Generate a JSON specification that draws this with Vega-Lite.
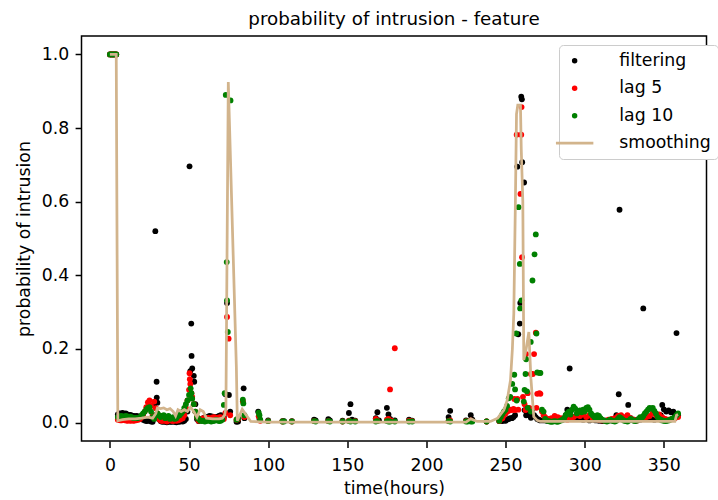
{
"$schema":"https://vega.github.io/schema/vega-lite/v6.json",
"width":625,"height":405,
"autosize":{"type":"none"},
"padding":{"left":81.5,"top":36,"right":11.5,"bottom":59},
"background":"white",
"title":{"text":"probability of intrusion - feature","fontSize":18.3,"font":"DejaVu Sans","fontWeight":"normal","color":"black","anchor":"middle","baseline":"alphabetic","frame":"group","offset":10,"dy":17},
"config":{"view":{"stroke":"black","strokeWidth":1.5},"font":"DejaVu Sans",
"axis":{"grid":false,"domain":false,"tickColor":"black","tickWidth":1.5,"tickSize":6.4,"labelFont":"DejaVu Sans","labelFontSize":17.3,"labelColor":"black","labelPadding":6.4,"titleFont":"DejaVu Sans","titleFontSize":17.3,"titleFontWeight":"normal","titleColor":"black"},
"axisX":{"labelPadding":9,"titlePadding":6},"axisY":{"titlePadding":8}},
"datasets":{
"fil":[{"t":0,"p":1},{"t":1,"p":1},{"t":2,"p":1},{"t":3,"p":1},{"t":4,"p":1},
{"t":5,"p":0.022},{"t":6,"p":0.025},{"t":7,"p":0.024},{"t":8,"p":0.026},{"t":9,"p":0.023},{"t":10,"p":0.025},{"t":11,"p":0.022},{"t":12,"p":0.02},{"t":13,"p":0.021},{"t":14,"p":0.019},{"t":15,"p":0.018},{"t":16,"p":0.017},{"t":17,"p":0.018},{"t":18,"p":0.016},{"t":19,"p":0.012},{"t":20,"p":0.01},{"t":21,"p":0.008},{"t":22,"p":0.006},{"t":23,"p":0.004},{"t":24,"p":0.005},{"t":25,"p":0.006},{"t":26,"p":0.003},{"t":27,"p":0.002},{"t":28,"p":0.05},{"t":28.7,"p":0.52},{"t":29.5,"p":0.111},{"t":29.6,"p":0.068},{"t":30,"p":0.054},{"t":31,"p":0.01},{"t":32,"p":0.004},{"t":33,"p":0.002},{"t":34,"p":0.003},{"t":35,"p":0.002},{"t":36,"p":0.001},{"t":37,"p":0.003},{"t":38,"p":0.002},{"t":39,"p":0.002},{"t":40,"p":0.003},{"t":41,"p":0.002},{"t":42,"p":0.001},{"t":43,"p":0.003},{"t":44,"p":0.002},{"t":45,"p":0.004},{"t":46,"p":0.003},{"t":47,"p":0.005},{"t":48,"p":0.01},{"t":49,"p":0.03},{"t":50.3,"p":0.696},{"t":50.8,"p":0.14},{"t":51.4,"p":0.269},{"t":51.6,"p":0.181},{"t":52,"p":0.147},{"t":53,"p":0.127},{"t":53.3,"p":0.111},{"t":54,"p":0.05},{"t":55,"p":0.01},{"t":56,"p":0.004},{"t":57,"p":0.006},{"t":58,"p":0.01},{"t":59,"p":0.012},{"t":60,"p":0.014},{"t":61,"p":0.015},{"t":62,"p":0.016},{"t":63,"p":0.018},{"t":64,"p":0.017},{"t":65,"p":0.016},{"t":66,"p":0.014},{"t":67,"p":0.015},{"t":68,"p":0.016},{"t":69,"p":0.018},{"t":70,"p":0.02},{"t":71,"p":0.019},{"t":72,"p":0.015},{"t":73,"p":0.077},{"t":74,"p":0.325},{"t":75.2,"p":0.075},{"t":76,"p":0.03},{"t":80,"p":0.002},{"t":81,"p":0.003},{"t":84.5,"p":0.093},{"t":85,"p":0.012},{"t":93.7,"p":0.03},{"t":94.5,"p":0.01},{"t":100,"p":0.006},{"t":109,"p":0.004},{"t":110,"p":0.004},{"t":115,"p":0.004},{"t":129,"p":0.008},{"t":130,"p":0.006},{"t":138,"p":0.009},{"t":139,"p":0.006},{"t":147,"p":0.005},{"t":151,"p":0.026},{"t":152,"p":0.05},{"t":153,"p":0.008},{"t":155,"p":0.005},{"t":168,"p":0.012},{"t":169,"p":0.028},{"t":170,"p":0.006},{"t":175,"p":0.04},{"t":176,"p":0.022},{"t":177,"p":0.01},{"t":178,"p":0.006},{"t":180,"p":0.006},{"t":189,"p":0.008},{"t":191,"p":0.005},{"t":214,"p":0.015},{"t":215,"p":0.032},{"t":225,"p":0.006},{"t":228,"p":0.02},{"t":229,"p":0.008},{"t":238,"p":0.003},{"t":246,"p":0.004},{"t":247,"p":0.005},{"t":248,"p":0.004},{"t":249,"p":0.006},{"t":250,"p":0.005},{"t":251,"p":0.008},{"t":252,"p":0.01},{"t":253,"p":0.012},{"t":254,"p":0.012},{"t":255,"p":0.015},{"t":256,"p":0.02},{"t":257.4,"p":0.695},{"t":258,"p":0.24},{"t":259,"p":0.269},{"t":259.3,"p":0.325},{"t":259.9,"p":0.885},{"t":260.3,"p":0.878},{"t":260.5,"p":0.707},{"t":261.7,"p":0.652},{"t":262,"p":0.034},{"t":263,"p":0.02},{"t":264,"p":0.034},{"t":265,"p":0.02},{"t":266,"p":0.013},{"t":267,"p":0.037},{"t":268,"p":0.02},{"t":269,"p":0.015},{"t":270,"p":0.01},{"t":271,"p":0.008},{"t":272,"p":0.006},{"t":274,"p":0.006},{"t":276,"p":0.005},{"t":278,"p":0.004},{"t":280,"p":0.006},{"t":282,"p":0.005},{"t":284,"p":0.006},{"t":286,"p":0.008},{"t":288,"p":0.02},{"t":289,"p":0.035},{"t":290.5,"p":0.147},{"t":291,"p":0.03},{"t":293,"p":0.015},{"t":295,"p":0.01},{"t":297,"p":0.012},{"t":299,"p":0.008},{"t":301,"p":0.01},{"t":303,"p":0.006},{"t":305,"p":0.008},{"t":307,"p":0.006},{"t":309,"p":0.005},{"t":311,"p":0.004},{"t":313,"p":0.005},{"t":315,"p":0.006},{"t":317,"p":0.006},{"t":319,"p":0.008},{"t":320,"p":0.02},{"t":321.5,"p":0.077},{"t":322,"p":0.578},{"t":323,"p":0.015},{"t":325,"p":0.01},{"t":327.5,"p":0.048},{"t":329,"p":0.012},{"t":331,"p":0.008},{"t":333,"p":0.006},{"t":335,"p":0.008},{"t":337,"p":0.31},{"t":338,"p":0.01},{"t":340,"p":0.012},{"t":342,"p":0.01},{"t":344,"p":0.008},{"t":346,"p":0.012},{"t":348,"p":0.02},{"t":349,"p":0.048},{"t":350,"p":0.036},{"t":351.5,"p":0.03},{"t":353,"p":0.033},{"t":354.5,"p":0.028},{"t":356,"p":0.03},{"t":357,"p":0.022},{"t":358,"p":0.243},{"t":359,"p":0.02}],
"lag5":[{"t":0,"p":1},{"t":1,"p":1},{"t":2,"p":1},{"t":3,"p":1},{"t":4,"p":1},
{"t":5,"p":0.008},{"t":6,"p":0.007},{"t":7,"p":0.006},{"t":8,"p":0.007},{"t":9,"p":0.008},{"t":10,"p":0.006},{"t":11,"p":0.005},{"t":12,"p":0.006},{"t":13,"p":0.005},{"t":14,"p":0.006},{"t":15,"p":0.005},{"t":16,"p":0.006},{"t":17,"p":0.007},{"t":18,"p":0.008},{"t":19,"p":0.01},{"t":20,"p":0.015},{"t":21,"p":0.022},{"t":22,"p":0.03},{"t":23,"p":0.042},{"t":24,"p":0.055},{"t":25,"p":0.06},{"t":26,"p":0.045},{"t":27,"p":0.02},{"t":28,"p":0.057},{"t":29,"p":0.039},{"t":30,"p":0.025},{"t":31,"p":0.01},{"t":32,"p":0.006},{"t":33,"p":0.004},{"t":34,"p":0.008},{"t":35,"p":0.005},{"t":36,"p":0.003},{"t":37,"p":0.006},{"t":38,"p":0.009},{"t":39,"p":0.005},{"t":40,"p":0.004},{"t":41,"p":0.007},{"t":42,"p":0.005},{"t":43,"p":0.006},{"t":44,"p":0.008},{"t":45,"p":0.01},{"t":46,"p":0.012},{"t":47,"p":0.02},{"t":48,"p":0.04},{"t":49,"p":0.06},{"t":50,"p":0.089},{"t":50.3,"p":0.134},{"t":50.5,"p":0.118},{"t":50.8,"p":0.105},{"t":51.5,"p":0.08},{"t":52,"p":0.07},{"t":53,"p":0.05},{"t":54,"p":0.03},{"t":55,"p":0.015},{"t":56,"p":0.005},{"t":57,"p":0.008},{"t":58,"p":0.01},{"t":59,"p":0.012},{"t":60,"p":0.01},{"t":61,"p":0.012},{"t":62,"p":0.013},{"t":63,"p":0.011},{"t":64,"p":0.012},{"t":65,"p":0.014},{"t":66,"p":0.015},{"t":67,"p":0.013},{"t":68,"p":0.012},{"t":69,"p":0.014},{"t":70,"p":0.015},{"t":71,"p":0.012},{"t":72,"p":0.01},{"t":73,"p":0.026},{"t":74,"p":0.287},{"t":75,"p":0.228},{"t":76,"p":0.02},{"t":80,"p":0.008},{"t":81,"p":0.01},{"t":84,"p":0.058},{"t":85,"p":0.015},{"t":94,"p":0.017},{"t":95,"p":0.005},{"t":100,"p":0.004},{"t":109,"p":0.003},{"t":115,"p":0.003},{"t":129,"p":0.004},{"t":138,"p":0.004},{"t":147,"p":0.003},{"t":151,"p":0.005},{"t":155,"p":0.004},{"t":168,"p":0.01},{"t":169,"p":0.005},{"t":175,"p":0.008},{"t":176,"p":0.01},{"t":177,"p":0.09},{"t":178,"p":0.005},{"t":180,"p":0.202},{"t":189,"p":0.005},{"t":191,"p":0.004},{"t":214,"p":0.004},{"t":215,"p":0.006},{"t":225,"p":0.004},{"t":228,"p":0.006},{"t":238,"p":0.003},{"t":246,"p":0.004},{"t":247,"p":0.01},{"t":248,"p":0.012},{"t":249,"p":0.02},{"t":250,"p":0.025},{"t":251,"p":0.03},{"t":252,"p":0.032},{"t":253,"p":0.035},{"t":254,"p":0.034},{"t":255,"p":0.037},{"t":255.5,"p":0.064},{"t":256,"p":0.034},{"t":257,"p":0.782},{"t":257.5,"p":0.064},{"t":258,"p":0.035},{"t":259.4,"p":0.621},{"t":259.9,"p":0.782},{"t":260.1,"p":0.857},{"t":260.4,"p":0.449},{"t":261,"p":0.07},{"t":262,"p":0.05},{"t":262.6,"p":0.034},{"t":263,"p":0.186},{"t":264,"p":0.08},{"t":265,"p":0.04},{"t":266,"p":0.132},{"t":267.2,"p":0.132},{"t":268,"p":0.186},{"t":269.1,"p":0.244},{"t":269.5,"p":0.04},{"t":270,"p":0.078},{"t":271.4,"p":0.08},{"t":272,"p":0.078},{"t":273,"p":0.03},{"t":274,"p":0.02},{"t":275,"p":0.015},{"t":277,"p":0.01},{"t":279,"p":0.012},{"t":281,"p":0.018},{"t":283,"p":0.015},{"t":285,"p":0.012},{"t":287,"p":0.01},{"t":289,"p":0.008},{"t":291,"p":0.01},{"t":293,"p":0.015},{"t":295,"p":0.02},{"t":297,"p":0.018},{"t":299,"p":0.022},{"t":301,"p":0.015},{"t":303,"p":0.02},{"t":305,"p":0.012},{"t":307,"p":0.01},{"t":309,"p":0.008},{"t":311,"p":0.006},{"t":313,"p":0.005},{"t":315,"p":0.008},{"t":317,"p":0.01},{"t":319,"p":0.012},{"t":321,"p":0.018},{"t":323,"p":0.02},{"t":325,"p":0.015},{"t":327,"p":0.02},{"t":329,"p":0.012},{"t":331,"p":0.008},{"t":333,"p":0.006},{"t":335,"p":0.01},{"t":337,"p":0.012},{"t":339,"p":0.015},{"t":341,"p":0.018},{"t":343,"p":0.026},{"t":345,"p":0.02},{"t":347,"p":0.022},{"t":349,"p":0.015},{"t":351,"p":0.01},{"t":353,"p":0.008},{"t":355,"p":0.01},{"t":357,"p":0.012},{"t":359,"p":0.015}],
"lag10":[{"t":0,"p":1},{"t":1,"p":1},{"t":2,"p":1},{"t":3,"p":1},{"t":4,"p":1},
{"t":5,"p":0.015},{"t":6,"p":0.016},{"t":7,"p":0.018},{"t":8,"p":0.017},{"t":9,"p":0.016},{"t":10,"p":0.018},{"t":11,"p":0.017},{"t":12,"p":0.015},{"t":13,"p":0.016},{"t":14,"p":0.014},{"t":15,"p":0.012},{"t":16,"p":0.013},{"t":17,"p":0.012},{"t":18,"p":0.013},{"t":19,"p":0.015},{"t":20,"p":0.02},{"t":21,"p":0.025},{"t":22,"p":0.03},{"t":23,"p":0.036},{"t":24,"p":0.04},{"t":25,"p":0.042},{"t":26,"p":0.03},{"t":27,"p":0.015},{"t":28,"p":0.01},{"t":29,"p":0.02},{"t":30,"p":0.025},{"t":31,"p":0.02},{"t":32,"p":0.015},{"t":33,"p":0.018},{"t":34,"p":0.02},{"t":35,"p":0.012},{"t":36,"p":0.015},{"t":37,"p":0.018},{"t":38,"p":0.01},{"t":39,"p":0.012},{"t":40,"p":0.015},{"t":41,"p":0.01},{"t":42,"p":0.012},{"t":43,"p":0.018},{"t":44,"p":0.02},{"t":45,"p":0.025},{"t":46,"p":0.03},{"t":47,"p":0.04},{"t":48,"p":0.05},{"t":49,"p":0.06},{"t":50,"p":0.075},{"t":51,"p":0.093},{"t":51.5,"p":0.08},{"t":52,"p":0.065},{"t":53,"p":0.05},{"t":54,"p":0.03},{"t":55,"p":0.015},{"t":56,"p":0.01},{"t":57,"p":0.006},{"t":58,"p":0.004},{"t":59,"p":0.005},{"t":60,"p":0.003},{"t":61,"p":0.004},{"t":62,"p":0.006},{"t":63,"p":0.005},{"t":64,"p":0.003},{"t":65,"p":0.004},{"t":66,"p":0.005},{"t":67,"p":0.007},{"t":68,"p":0.006},{"t":69,"p":0.004},{"t":70,"p":0.005},{"t":71,"p":0.008},{"t":72,"p":0.048},{"t":72.5,"p":0.08},{"t":73.2,"p":0.89},{"t":73.8,"p":0.436},{"t":74,"p":0.332},{"t":74.5,"p":0.246},{"t":76.2,"p":0.875},{"t":80,"p":0.008},{"t":81,"p":0.012},{"t":84,"p":0.062},{"t":84.3,"p":0.052},{"t":85,"p":0.02},{"t":94,"p":0.027},{"t":94.5,"p":0.02},{"t":95,"p":0.008},{"t":100,"p":0.004},{"t":109,"p":0.003},{"t":110,"p":0.003},{"t":115,"p":0.003},{"t":129,"p":0.004},{"t":130,"p":0.003},{"t":138,"p":0.004},{"t":139,"p":0.003},{"t":147,"p":0.003},{"t":151,"p":0.004},{"t":152,"p":0.003},{"t":155,"p":0.003},{"t":168,"p":0.003},{"t":169,"p":0.004},{"t":175,"p":0.004},{"t":176,"p":0.003},{"t":177,"p":0.003},{"t":180,"p":0.003},{"t":189,"p":0.003},{"t":191,"p":0.003},{"t":214,"p":0.004},{"t":215,"p":0.003},{"t":225,"p":0.003},{"t":226,"p":0.003},{"t":228,"p":0.003},{"t":229,"p":0.003},{"t":238,"p":0.003},{"t":246,"p":0.005},{"t":247,"p":0.015},{"t":248,"p":0.023},{"t":249,"p":0.03},{"t":250,"p":0.035},{"t":251,"p":0.045},{"t":252,"p":0.066},{"t":253,"p":0.07},{"t":254.2,"p":0.105},{"t":255.5,"p":0.13},{"t":256,"p":0.09},{"t":256.7,"p":0.242},{"t":257,"p":0.06},{"t":258.2,"p":0.585},{"t":259,"p":0.431},{"t":259.2,"p":0.31},{"t":260,"p":0.332},{"t":261.5,"p":0.057},{"t":262,"p":0.089},{"t":262.6,"p":0.132},{"t":263,"p":0.172},{"t":263.5,"p":0.085},{"t":264,"p":0.04},{"t":265.9,"p":0.219},{"t":266,"p":0.03},{"t":267,"p":0.386},{"t":268.3,"p":0.457},{"t":269.1,"p":0.511},{"t":269.5,"p":0.242},{"t":270,"p":0.136},{"t":271.5,"p":0.135},{"t":272,"p":0.135},{"t":273,"p":0.035},{"t":274,"p":0.03},{"t":275,"p":0.01},{"t":276,"p":0.006},{"t":277,"p":0.004},{"t":278,"p":0.003},{"t":279,"p":0.002},{"t":280,"p":0.003},{"t":281,"p":0.004},{"t":282,"p":0.003},{"t":283,"p":0.002},{"t":284,"p":0.004},{"t":285,"p":0.006},{"t":286,"p":0.008},{"t":287,"p":0.012},{"t":288,"p":0.02},{"t":289,"p":0.025},{"t":290,"p":0.03},{"t":291,"p":0.022},{"t":292,"p":0.035},{"t":293,"p":0.043},{"t":294,"p":0.038},{"t":295,"p":0.025},{"t":296,"p":0.03},{"t":297,"p":0.033},{"t":298,"p":0.028},{"t":299,"p":0.035},{"t":300,"p":0.03},{"t":301,"p":0.04},{"t":302,"p":0.042},{"t":303,"p":0.035},{"t":304,"p":0.025},{"t":305,"p":0.02},{"t":306,"p":0.015},{"t":307,"p":0.012},{"t":308,"p":0.02},{"t":309,"p":0.018},{"t":310,"p":0.012},{"t":311,"p":0.008},{"t":312,"p":0.006},{"t":313,"p":0.004},{"t":314,"p":0.003},{"t":315,"p":0.005},{"t":316,"p":0.008},{"t":317,"p":0.006},{"t":318,"p":0.004},{"t":319,"p":0.003},{"t":320,"p":0.005},{"t":321,"p":0.01},{"t":322,"p":0.015},{"t":323,"p":0.012},{"t":324,"p":0.008},{"t":325,"p":0.005},{"t":326,"p":0.004},{"t":327,"p":0.003},{"t":328,"p":0.006},{"t":329,"p":0.01},{"t":330,"p":0.008},{"t":331,"p":0.005},{"t":332,"p":0.004},{"t":333,"p":0.006},{"t":334,"p":0.01},{"t":335,"p":0.015},{"t":336,"p":0.012},{"t":337,"p":0.018},{"t":338,"p":0.025},{"t":339,"p":0.03},{"t":340,"p":0.035},{"t":341,"p":0.04},{"t":342,"p":0.038},{"t":343,"p":0.04},{"t":344,"p":0.032},{"t":345,"p":0.025},{"t":346,"p":0.015},{"t":347,"p":0.01},{"t":348,"p":0.008},{"t":349,"p":0.006},{"t":350,"p":0.005},{"t":351,"p":0.004},{"t":352,"p":0.005},{"t":353,"p":0.006},{"t":354,"p":0.008},{"t":355,"p":0.01},{"t":356,"p":0.012},{"t":357,"p":0.015},{"t":358,"p":0.02},{"t":359,"p":0.025}],
"smooth":[{"t":0,"p":1},{"t":1,"p":1},{"t":2,"p":1},{"t":3,"p":1},{"t":4,"p":1},{"t":5,"p":0.005},{"t":8,"p":0.008},{"t":12,"p":0.01},{"t":16,"p":0.01},{"t":20,"p":0.012},{"t":24,"p":0.015},{"t":27,"p":0.012},{"t":29,"p":0.025},{"t":30,"p":0.04},{"t":32,"p":0.038},{"t":34,"p":0.04},{"t":36,"p":0.035},{"t":38,"p":0.038},{"t":40,"p":0.03},{"t":41.5,"p":0.018},{"t":43,"p":0.035},{"t":45,"p":0.03},{"t":47,"p":0.035},{"t":49,"p":0.03},{"t":51,"p":0.042},{"t":53,"p":0.03},{"t":55,"p":0.015},{"t":57,"p":0.035},{"t":59,"p":0.03},{"t":61,"p":0.012},{"t":65,"p":0.01},{"t":69,"p":0.01},{"t":71,"p":0.012},{"t":72.5,"p":0.02},{"t":73.3,"p":0.04},{"t":74.8,"p":0.925},{"t":79.9,"p":0.15},{"t":80.5,"p":0.005},{"t":83.6,"p":0.036},{"t":89,"p":0.003},{"t":100,"p":0.001},{"t":225,"p":0.001},{"t":228,"p":0.01},{"t":232,"p":0.003},{"t":240.5,"p":0.003},{"t":245,"p":0.012},{"t":248.9,"p":0.034},{"t":251,"p":0.06},{"t":253.1,"p":0.115},{"t":254.3,"p":0.2},{"t":255.2,"p":0.297},{"t":256.2,"p":0.6},{"t":256.9,"p":0.838},{"t":257.7,"p":0.862},{"t":259.4,"p":0.862},{"t":259.9,"p":0.744},{"t":260.9,"p":0.6},{"t":261.5,"p":0.17},{"t":263,"p":0.2},{"t":264.7,"p":0.246},{"t":266,"p":0.12},{"t":267.8,"p":0.016},{"t":270,"p":0.006},{"t":272,"p":0.003},{"t":300,"p":0.003},{"t":357,"p":0.003},{"t":358,"p":0.02},{"t":359,"p":0.022}]
},
"layer":[
{"data":{"name":"fil"},"mark":{"type":"circle","size":34,"opacity":1},
"encoding":{"x":{"field":"t","type":"quantitative","scale":{"domain":[-17.95,376.95],"nice":false,"zero":false},"axis":{"values":[0,50,100,150,200,250,300,350],"format":"d","title":"time(hours)"}},
"y":{"field":"p","type":"quantitative","scale":{"domain":[-0.05,1.05],"nice":false,"zero":false},"axis":{"values":[0,0.2,0.4,0.6,0.8,1.0],"format":".1f","title":"probability of intrusion"}},
"color":{"datum":"filtering","type":"nominal","scale":{"domain":["filtering","lag 5","lag 10","smoothing"],"range":["#000000","#ff0000","#008000","#d2b48c"]},
"legend":{"title":null,"orient":"none","legendX":477.5,"legendY":9,"labelFont":"DejaVu Sans","labelFontSize":17.3,"labelColor":"black","labelOffset":36,"rowPadding":9.5,"padding":7,"strokeColor":"#cccccc","fillColor":"white","cornerRadius":4,
"symbolType":{"expr":"datum.value === 'smoothing' ? 'stroke' : 'circle'"},
"symbolSize":{"expr":"datum.value === 'smoothing' ? 1400 : 30"},
"symbolStrokeWidth":{"expr":"datum.value === 'smoothing' ? 2.75 : 0"},
"symbolStrokeColor":"#d2b48c","symbolOpacity":1}}}},
{"data":{"name":"lag5"},"mark":{"type":"circle","size":34,"opacity":1},
"encoding":{"x":{"field":"t","type":"quantitative"},"y":{"field":"p","type":"quantitative"},"color":{"datum":"lag 5","type":"nominal"}}},
{"data":{"name":"lag10"},"mark":{"type":"circle","size":34,"opacity":1},
"encoding":{"x":{"field":"t","type":"quantitative"},"y":{"field":"p","type":"quantitative"},"color":{"datum":"lag 10","type":"nominal"}}},
{"data":{"name":"smooth"},"mark":{"type":"line","strokeWidth":2.75},
"encoding":{"x":{"field":"t","type":"quantitative"},"y":{"field":"p","type":"quantitative"},"color":{"datum":"smoothing","type":"nominal"}}}
]
}
